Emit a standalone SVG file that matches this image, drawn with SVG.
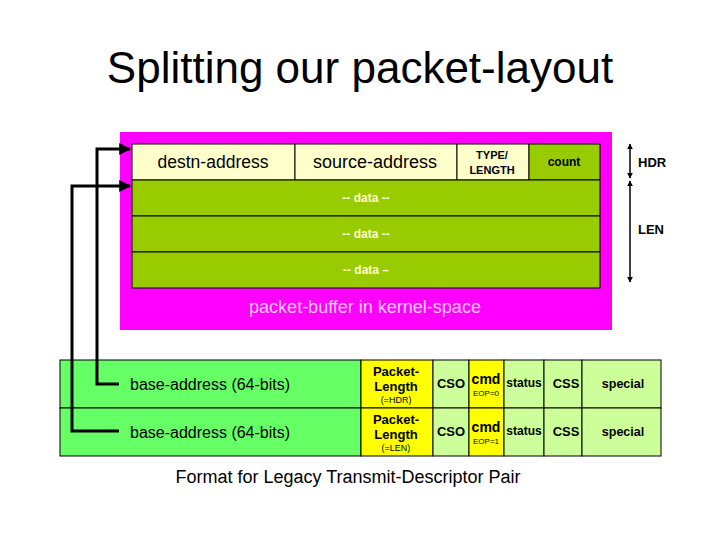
<svg xmlns="http://www.w3.org/2000/svg" width="720" height="540" viewBox="0 0 720 540">
<defs>
<style>
text{font-family:"Liberation Sans",Arial,sans-serif}
.cell{stroke:#000;stroke-width:1}
.hdr{fill:#FFFFCC}
.dat{fill:#99CC00}
.b{font-weight:bold}
.c{text-anchor:middle}
.wire{fill:none;stroke:#000;stroke-width:3}
.dim{fill:none;stroke:#000;stroke-width:1.5}
</style>
<marker id="ah" viewBox="0 0 10 10" refX="9" refY="5" markerWidth="4" markerHeight="4" orient="auto"><path d="M0,0L10,5L0,10z" fill="#000"/></marker>
<marker id="dh" viewBox="0 0 10 10" refX="9" refY="5" markerWidth="4" markerHeight="5" orient="auto-start-reverse"><path d="M0,0L10,5L0,10z" fill="#000"/></marker>
</defs>
<rect width="720" height="540" fill="#fff"/>
<text x="360" y="83" class="c" font-size="44">Splitting our packet-layout</text>

<g id="packet-buffer">
<rect x="120" y="132" width="492" height="198" fill="#FF00FF"/>
<text x="365" y="313" class="c" font-size="18" fill="#FFCCFF">packet-buffer in kernel-space</text>
</g>
<g id="destn-address"><rect class="cell hdr" x="132" y="144" width="163" height="36"/><text x="213" y="168" class="c" font-size="17.5">destn-address</text></g>
<g id="source-address"><rect class="cell hdr" x="295" y="144" width="162" height="36"/><text x="375" y="168" class="c" font-size="18">source-address</text></g>
<g id="type-length"><rect class="cell hdr" x="457" y="144" width="72" height="36"/><text x="492" y="159" class="c b" font-size="11">TYPE/</text><text x="492" y="174" class="c b" font-size="11">LENGTH</text></g>
<g id="count"><rect class="cell dat" x="529" y="144" width="71" height="36"/><text x="564" y="166" class="c b" font-size="12">count</text></g>
<g id="data1"><rect class="cell dat" x="132" y="180" width="468" height="36"/><text x="366" y="202" class="c b" font-size="12" fill="#FFFFCC">-- data --</text></g>
<g id="data2"><rect class="cell dat" x="132" y="216" width="468" height="36"/><text x="366" y="238" class="c b" font-size="12" fill="#FFFFCC">-- data --</text></g>
<g id="data3"><rect class="cell dat" x="132" y="252" width="468" height="36"/><text x="366" y="274" class="c b" font-size="12" fill="#FFFFCC">-- data –</text></g>

<g id="hdr-len-dims">
<line class="dim" x1="630" y1="144" x2="630" y2="178" marker-start="url(#dh)" marker-end="url(#dh)"/>
<line class="dim" x1="630" y1="181" x2="630" y2="282" marker-start="url(#dh)" marker-end="url(#dh)"/>
<text x="638" y="167" font-size="13" class="b">HDR</text>
<text x="638" y="234" font-size="13" class="b">LEN</text>
</g>

<g id="desc0">
<rect class="cell" x="60" y="360" width="301" height="48" fill="#66FF66"/>
<text x="130" y="390" font-size="16">base-address (64-bits)</text>
<rect class="cell" x="361" y="360" width="72" height="48" fill="#FFFF00"/>
<text x="396" y="376" class="c b" font-size="13">Packet-</text>
<text x="396" y="391" class="c b" font-size="13">Length</text>
<text x="396" y="403" class="c" font-size="9">(=HDR)</text>
<rect class="cell" x="433" y="360" width="36" height="48" fill="#CCFF99"/>
<text x="451" y="388" class="c b" font-size="13">CSO</text>
<rect class="cell" x="469" y="360" width="35" height="48" fill="#FFFF00"/>
<text x="486" y="384" class="c b" font-size="14">cmd</text>
<text x="486" y="396" class="c" font-size="8">EOP=0</text>
<rect class="cell" x="504" y="360" width="40" height="48" fill="#CCFF99"/>
<text x="524" y="387" class="c b" font-size="12">status</text>
<rect class="cell" x="544" y="360" width="38" height="48" fill="#CCFF99"/>
<text x="566" y="388" class="c b" font-size="13">CSS</text>
<rect class="cell" x="582" y="360" width="79" height="48" fill="#CCFF99"/>
<text x="623" y="388" class="c b" font-size="12.5">special</text>
</g>
<g id="desc1">
<rect class="cell" x="60" y="408" width="301" height="48" fill="#66FF66"/>
<text x="130" y="438" font-size="16">base-address (64-bits)</text>
<rect class="cell" x="361" y="408" width="72" height="48" fill="#FFFF00"/>
<text x="396" y="424" class="c b" font-size="13">Packet-</text>
<text x="396" y="439" class="c b" font-size="13">Length</text>
<text x="396" y="451" class="c" font-size="9">(=LEN)</text>
<rect class="cell" x="433" y="408" width="36" height="48" fill="#CCFF99"/>
<text x="451" y="436" class="c b" font-size="13">CSO</text>
<rect class="cell" x="469" y="408" width="35" height="48" fill="#FFFF00"/>
<text x="486" y="432" class="c b" font-size="14">cmd</text>
<text x="486" y="444" class="c" font-size="8">EOP=1</text>
<rect class="cell" x="504" y="408" width="40" height="48" fill="#CCFF99"/>
<text x="524" y="435" class="c b" font-size="12">status</text>
<rect class="cell" x="544" y="408" width="38" height="48" fill="#CCFF99"/>
<text x="566" y="436" class="c b" font-size="13">CSS</text>
<rect class="cell" x="582" y="408" width="79" height="48" fill="#CCFF99"/>
<text x="623" y="436" class="c b" font-size="12.5">special</text>
</g>
<text x="348" y="483" class="c" font-size="18">Format for Legacy Transmit-Descriptor Pair</text>

<g id="connectors">
<path class="wire" d="M119,384H97V149H130" marker-end="url(#ah)"/>
<path class="wire" d="M119,431H72V186H130" marker-end="url(#ah)"/>
</g>
</svg>
